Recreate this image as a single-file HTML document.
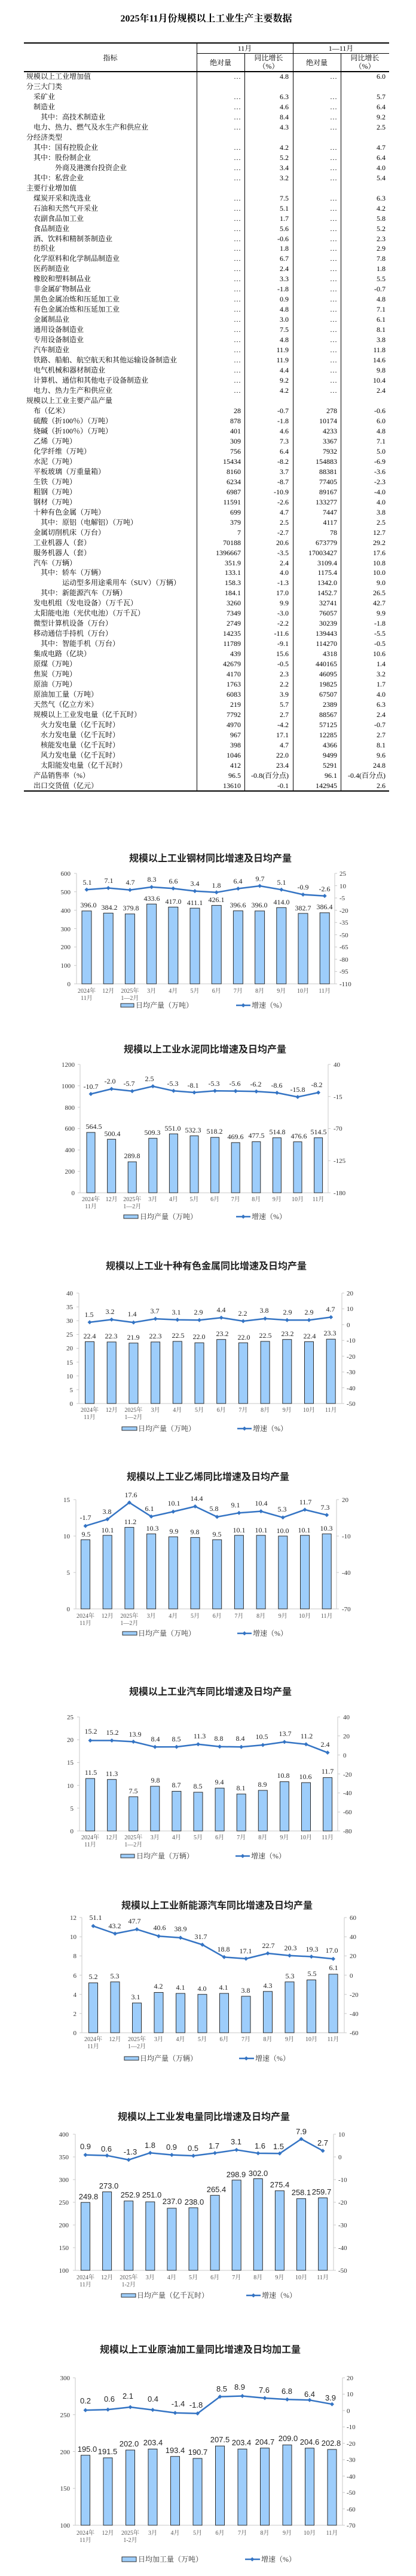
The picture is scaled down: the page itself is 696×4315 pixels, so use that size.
<!DOCTYPE html>
<html><head><meta charset="utf-8"><style>
body{margin:0;width:696px;height:4315px;position:relative;background:#fff;overflow:hidden}
.ttl0{position:absolute;top:18px;left:0;width:690px;text-align:center;font:bold 16px "Liberation Serif","Noto Serif CJK SC",serif;color:#000}
#tb{position:absolute;left:40px;top:120px;width:611px;font:12px "Liberation Serif","Noto Serif CJK SC",serif;color:#000}
.r{display:flex;height:16.97px;line-height:16.97px;white-space:nowrap}
.r span{width:80px;text-align:right;padding-right:6px;box-sizing:border-box}
.r span:nth-child(3){width:81px;padding-right:7px}
.r span:nth-child(5){width:81px}
.r span.l{width:289px;text-align:left;padding-left:4px}
.r span.i1{padding-left:16px}.r span.i2{padding-left:28px}.r span.i3{padding-left:52px}.r span.i4{padding-left:64px}
.hl{position:absolute;background:#000}
.hd{position:absolute;font:12px "Liberation Serif","Noto Serif CJK SC",serif;text-align:center;line-height:14px}
svg{position:absolute;left:0;top:0}
.bar{fill:#9dcdfb;stroke:#2b2b2b;stroke-width:1}
.ln{fill:none;stroke:#3474c4;stroke-width:2.5;stroke-linejoin:round}
.ax{stroke:#c8c8c8;stroke-width:1;fill:none}
.t{font:11px "Liberation Serif","Noto Serif CJK SC",serif;fill:#333}
.te{text-anchor:end}
.xl{font:10px "Liberation Serif","Noto Serif CJK SC",serif;fill:#555;text-anchor:middle}
.d{font:12px "Liberation Serif","Noto Serif CJK SC",serif;fill:#222;text-anchor:middle}
.ds{font:13px "Liberation Sans","Noto Sans CJK SC",sans-serif;fill:#222;text-anchor:middle}
.ct{font:bold 16px "Liberation Sans","Noto Sans CJK SC",sans-serif;fill:#222;text-anchor:middle}
.lg{font:12px "Liberation Serif","Noto Serif CJK SC",serif;fill:#333}
</style></head><body>
<div class="ttl0">2025年11月份规模以上工业生产主要数据</div>
<div class="hl" style="left:40px;top:71px;width:611px;height:2px"></div>
<div class="hl" style="left:329px;top:89px;width:322px;height:1px"></div>
<div class="hl" style="left:40px;top:119px;width:611px;height:1.5px"></div>
<div class="hl" style="left:40px;top:1324px;width:611px;height:1.5px"></div>
<div class="hl" style="left:329px;top:72px;width:1px;height:1253px"></div>
<div class="hl" style="left:409px;top:89px;width:1px;height:1236px"></div>
<div class="hl" style="left:490px;top:72px;width:1px;height:1253px"></div>
<div class="hl" style="left:570px;top:89px;width:1px;height:1236px"></div>
<div class="hd" style="left:40px;top:90px;width:289px">指标</div>
<div class="hd" style="left:329px;top:74px;width:161px">11月</div>
<div class="hd" style="left:490px;top:74px;width:161px">1—11月</div>
<div class="hd" style="left:329px;top:98px;width:80px">绝对量</div>
<div class="hd" style="left:409px;top:90px;width:81px">同比增长<br>（%）</div>
<div class="hd" style="left:490px;top:98px;width:80px">绝对量</div>
<div class="hd" style="left:570px;top:90px;width:81px">同比增长<br>（%）</div>
<div id="tb">
<div class="r"><span class="l">规模以上工业增加值</span><span>…</span><span>4.8</span><span>…</span><span>6.0</span></div>
<div class="r"><span class="l">分三大门类</span><span></span><span></span><span></span><span></span></div>
<div class="r"><span class="l i1">采矿业</span><span>…</span><span>6.3</span><span>…</span><span>5.7</span></div>
<div class="r"><span class="l i1">制造业</span><span>…</span><span>4.6</span><span>…</span><span>6.4</span></div>
<div class="r"><span class="l i2">其中：高技术制造业</span><span>…</span><span>8.4</span><span>…</span><span>9.2</span></div>
<div class="r"><span class="l i1">电力、热力、燃气及水生产和供应业</span><span>…</span><span>4.3</span><span>…</span><span>2.5</span></div>
<div class="r"><span class="l">分经济类型</span><span></span><span></span><span></span><span></span></div>
<div class="r"><span class="l i1">其中：国有控股企业</span><span>…</span><span>4.2</span><span>…</span><span>4.7</span></div>
<div class="r"><span class="l i1">其中：股份制企业</span><span>…</span><span>5.2</span><span>…</span><span>6.4</span></div>
<div class="r"><span class="l i3">外商及港澳台投资企业</span><span>…</span><span>3.4</span><span>…</span><span>4.0</span></div>
<div class="r"><span class="l i1">其中：私营企业</span><span>…</span><span>3.2</span><span>…</span><span>5.4</span></div>
<div class="r"><span class="l">主要行业增加值</span><span></span><span></span><span></span><span></span></div>
<div class="r"><span class="l i1">煤炭开采和洗选业</span><span>…</span><span>7.5</span><span>…</span><span>6.3</span></div>
<div class="r"><span class="l i1">石油和天然气开采业</span><span>…</span><span>5.1</span><span>…</span><span>4.2</span></div>
<div class="r"><span class="l i1">农副食品加工业</span><span>…</span><span>1.7</span><span>…</span><span>5.8</span></div>
<div class="r"><span class="l i1">食品制造业</span><span>…</span><span>5.6</span><span>…</span><span>5.2</span></div>
<div class="r"><span class="l i1">酒、饮料和精制茶制造业</span><span>…</span><span>-0.6</span><span>…</span><span>2.3</span></div>
<div class="r"><span class="l i1">纺织业</span><span>…</span><span>1.8</span><span>…</span><span>2.9</span></div>
<div class="r"><span class="l i1">化学原料和化学制品制造业</span><span>…</span><span>6.7</span><span>…</span><span>7.8</span></div>
<div class="r"><span class="l i1">医药制造业</span><span>…</span><span>2.4</span><span>…</span><span>1.8</span></div>
<div class="r"><span class="l i1">橡胶和塑料制品业</span><span>…</span><span>3.3</span><span>…</span><span>5.5</span></div>
<div class="r"><span class="l i1">非金属矿物制品业</span><span>…</span><span>-1.8</span><span>…</span><span>-0.7</span></div>
<div class="r"><span class="l i1">黑色金属冶炼和压延加工业</span><span>…</span><span>0.9</span><span>…</span><span>4.8</span></div>
<div class="r"><span class="l i1">有色金属冶炼和压延加工业</span><span>…</span><span>4.8</span><span>…</span><span>7.1</span></div>
<div class="r"><span class="l i1">金属制品业</span><span>…</span><span>3.0</span><span>…</span><span>6.1</span></div>
<div class="r"><span class="l i1">通用设备制造业</span><span>…</span><span>7.5</span><span>…</span><span>8.1</span></div>
<div class="r"><span class="l i1">专用设备制造业</span><span>…</span><span>4.8</span><span>…</span><span>3.8</span></div>
<div class="r"><span class="l i1">汽车制造业</span><span>…</span><span>11.9</span><span>…</span><span>11.8</span></div>
<div class="r"><span class="l i1">铁路、船舶、航空航天和其他运输设备制造业</span><span>…</span><span>11.9</span><span>…</span><span>14.6</span></div>
<div class="r"><span class="l i1">电气机械和器材制造业</span><span>…</span><span>4.4</span><span>…</span><span>9.8</span></div>
<div class="r"><span class="l i1">计算机、通信和其他电子设备制造业</span><span>…</span><span>9.2</span><span>…</span><span>10.4</span></div>
<div class="r"><span class="l i1">电力、热力生产和供应业</span><span>…</span><span>4.2</span><span>…</span><span>2.4</span></div>
<div class="r"><span class="l">规模以上工业主要产品产量</span><span></span><span></span><span></span><span></span></div>
<div class="r"><span class="l i1">布（亿米）</span><span>28</span><span>-0.7</span><span>278</span><span>-0.6</span></div>
<div class="r"><span class="l i1">硫酸（折100％）（万吨）</span><span>878</span><span>-1.8</span><span>10174</span><span>6.0</span></div>
<div class="r"><span class="l i1">烧碱（折100％）（万吨）</span><span>401</span><span>4.6</span><span>4233</span><span>4.8</span></div>
<div class="r"><span class="l i1">乙烯（万吨）</span><span>309</span><span>7.3</span><span>3367</span><span>7.1</span></div>
<div class="r"><span class="l i1">化学纤维（万吨）</span><span>756</span><span>6.4</span><span>7932</span><span>5.0</span></div>
<div class="r"><span class="l i1">水泥（万吨）</span><span>15434</span><span>-8.2</span><span>154883</span><span>-6.9</span></div>
<div class="r"><span class="l i1">平板玻璃（万重量箱）</span><span>8160</span><span>3.7</span><span>88381</span><span>-3.6</span></div>
<div class="r"><span class="l i1">生铁（万吨）</span><span>6234</span><span>-8.7</span><span>77405</span><span>-2.3</span></div>
<div class="r"><span class="l i1">粗钢（万吨）</span><span>6987</span><span>-10.9</span><span>89167</span><span>-4.0</span></div>
<div class="r"><span class="l i1">钢材（万吨）</span><span>11591</span><span>-2.6</span><span>133277</span><span>4.0</span></div>
<div class="r"><span class="l i1">十种有色金属（万吨）</span><span>699</span><span>4.7</span><span>7447</span><span>3.8</span></div>
<div class="r"><span class="l i2">其中：原铝（电解铝）（万吨）</span><span>379</span><span>2.5</span><span>4117</span><span>2.5</span></div>
<div class="r"><span class="l i1">金属切削机床（万台）</span><span>7</span><span>-2.7</span><span>78</span><span>12.7</span></div>
<div class="r"><span class="l i1">工业机器人（套）</span><span>70188</span><span>20.6</span><span>673779</span><span>29.2</span></div>
<div class="r"><span class="l i1">服务机器人（套）</span><span>1396667</span><span>-3.5</span><span>17003427</span><span>17.6</span></div>
<div class="r"><span class="l i1">汽车（万辆）</span><span>351.9</span><span>2.4</span><span>3109.4</span><span>10.8</span></div>
<div class="r"><span class="l i2">其中：轿车（万辆）</span><span>133.1</span><span>4.0</span><span>1175.4</span><span>10.0</span></div>
<div class="r"><span class="l i4">运动型多用途乘用车（SUV）（万辆）</span><span>158.3</span><span>-1.3</span><span>1342.0</span><span>9.0</span></div>
<div class="r"><span class="l i2">其中：新能源汽车（万辆）</span><span>184.1</span><span>17.0</span><span>1452.7</span><span>26.5</span></div>
<div class="r"><span class="l i1">发电机组（发电设备）（万千瓦）</span><span>3260</span><span>9.9</span><span>32741</span><span>42.7</span></div>
<div class="r"><span class="l i1">太阳能电池（光伏电池）（万千瓦）</span><span>7349</span><span>-3.0</span><span>76057</span><span>9.9</span></div>
<div class="r"><span class="l i1">微型计算机设备（万台）</span><span>2749</span><span>-2.2</span><span>30239</span><span>-1.8</span></div>
<div class="r"><span class="l i1">移动通信手持机（万台）</span><span>14235</span><span>-11.6</span><span>139443</span><span>-5.5</span></div>
<div class="r"><span class="l i2">其中：智能手机（万台）</span><span>11789</span><span>-9.1</span><span>114270</span><span>-0.5</span></div>
<div class="r"><span class="l i1">集成电路（亿块）</span><span>439</span><span>15.6</span><span>4318</span><span>10.6</span></div>
<div class="r"><span class="l i1">原煤（万吨）</span><span>42679</span><span>-0.5</span><span>440165</span><span>1.4</span></div>
<div class="r"><span class="l i1">焦炭（万吨）</span><span>4170</span><span>2.3</span><span>46095</span><span>3.2</span></div>
<div class="r"><span class="l i1">原油（万吨）</span><span>1763</span><span>2.2</span><span>19825</span><span>1.7</span></div>
<div class="r"><span class="l i1">原油加工量（万吨）</span><span>6083</span><span>3.9</span><span>67507</span><span>4.0</span></div>
<div class="r"><span class="l i1">天然气（亿立方米）</span><span>219</span><span>5.7</span><span>2389</span><span>6.3</span></div>
<div class="r"><span class="l i1">规模以上工业发电量（亿千瓦时）</span><span>7792</span><span>2.7</span><span>88567</span><span>2.4</span></div>
<div class="r"><span class="l i2">火力发电量（亿千瓦时）</span><span>4970</span><span>-4.2</span><span>57125</span><span>-0.7</span></div>
<div class="r"><span class="l i2">水力发电量（亿千瓦时）</span><span>967</span><span>17.1</span><span>12285</span><span>2.7</span></div>
<div class="r"><span class="l i2">核能发电量（亿千瓦时）</span><span>398</span><span>4.7</span><span>4366</span><span>8.1</span></div>
<div class="r"><span class="l i2">风力发电量（亿千瓦时）</span><span>1046</span><span>22.0</span><span>9499</span><span>9.6</span></div>
<div class="r"><span class="l i2">太阳能发电量（亿千瓦时）</span><span>412</span><span>23.4</span><span>5291</span><span>24.8</span></div>
<div class="r"><span class="l i1">产品销售率（%）</span><span>96.5</span><span>-0.8(百分点)</span><span>96.1</span><span>-0.4(百分点)</span></div>
<div class="r"><span class="l i1">出口交货值（亿元）</span><span>13610</span><span>-0.1</span><span>142945</span><span>2.6</span></div>
</div>

<svg width="696" height="4315" viewBox="0 0 696 4315" xmlns="http://www.w3.org/2000/svg">
<defs><path id="dm" d="M0,-3.5L3.5,0L0,3.5L-3.5,0Z" fill="#3474c4"/></defs>

<!-- Chart 1 steel -->
<text class="ct" x="352" y="1443">规模以上工业钢材同比增速及日均产量</text>
<path class="ax" d="M128,1463V1648H560V1463M124,1463H128M124,1493.8H128M124,1524.7H128M124,1555.5H128M124,1586.3H128M124,1617.2H128M124,1648H128M560,1463H564M560,1483.6H564M560,1504.1H564M560,1524.7H564M560,1545.2H564M560,1565.8H564M560,1586.3H564M560,1606.9H564M560,1627.4H564M560,1648H564"/>
<g class="t te"><text x="118" y="1467">600</text><text x="118" y="1498">500</text><text x="118" y="1529">400</text><text x="118" y="1560">300</text><text x="118" y="1590">200</text><text x="118" y="1621">100</text><text x="118" y="1652">0</text></g>
<g class="t"><text x="568" y="1467">25</text><text x="568" y="1488">10</text><text x="568" y="1508">-5</text><text x="568" y="1529">-20</text><text x="568" y="1549">-35</text><text x="568" y="1570">-50</text><text x="568" y="1590">-65</text><text x="568" y="1611">-80</text><text x="568" y="1631">-95</text><text x="568" y="1652">-110</text></g>
<g class="bar"><rect x="137" y="1525.9" width="16" height="122.1"/><rect x="173.2" y="1529.5" width="16" height="118.5"/><rect x="209.4" y="1530.9" width="16" height="117.1"/><rect x="245.6" y="1514.3" width="16" height="133.7"/><rect x="281.8" y="1519.4" width="16" height="128.6"/><rect x="318" y="1521.2" width="16" height="126.8"/><rect x="354.2" y="1516.6" width="16" height="131.4"/><rect x="390.4" y="1525.7" width="16" height="122.3"/><rect x="426.6" y="1525.9" width="16" height="122.1"/><rect x="462.8" y="1520.3" width="16" height="127.7"/><rect x="499" y="1530" width="16" height="118"/><rect x="535.2" y="1528.9" width="16" height="119.1"/></g>
<g class="d"><text x="148" y="1520">396.0</text><text x="183" y="1524">384.2</text><text x="219" y="1525">379.8</text><text x="254" y="1509">433.6</text><text x="290" y="1514">417.0</text><text x="326" y="1516">411.1</text><text x="362" y="1511">426.1</text><text x="398" y="1520">396.6</text><text x="434" y="1520">396.0</text><text x="471" y="1515">414.0</text><text x="507" y="1525">382.7</text><text x="543" y="1523">386.4</text></g>
<polyline class="ln" points="145,1490.3 181.2,1487.5 217.4,1490.8 253.6,1485.9 289.8,1488.2 326,1492.6 362.2,1494.8 398.4,1488.5 434.6,1484 470.8,1490.3 507,1498.5 543.2,1500.8"/>
<g><use href="#dm" x="145" y="1490.3"/><use href="#dm" x="181.2" y="1487.5"/><use href="#dm" x="217.4" y="1490.8"/><use href="#dm" x="253.6" y="1485.9"/><use href="#dm" x="289.8" y="1488.2"/><use href="#dm" x="326" y="1492.6"/><use href="#dm" x="362.2" y="1494.8"/><use href="#dm" x="398.4" y="1488.5"/><use href="#dm" x="434.6" y="1484"/><use href="#dm" x="470.8" y="1490.3"/><use href="#dm" x="507" y="1498.5"/><use href="#dm" x="543.2" y="1500.8"/></g>
<g class="d"><text x="146" y="1482">5.1</text><text x="182" y="1479">7.1</text><text x="218" y="1482">4.7</text><text x="254" y="1477">8.3</text><text x="290" y="1480">6.6</text><text x="326" y="1484">3.4</text><text x="362" y="1487">1.8</text><text x="398" y="1480">6.4</text><text x="435" y="1476">9.7</text><text x="471" y="1482">5.1</text><text x="507" y="1490">-0.9</text><text x="543" y="1493">-2.6</text></g>
<g class="xl"><text x="145" y="1663">2024年<tspan x="145" dy="12">11月</tspan></text><text x="181.2" y="1663">12月</text><text x="217.4" y="1663">2025年<tspan x="217.4" dy="12">1—2月</tspan></text><text x="253.6" y="1663">3月</text><text x="289.8" y="1663">4月</text><text x="326" y="1663">5月</text><text x="362.2" y="1663">6月</text><text x="398.4" y="1663">7月</text><text x="434.6" y="1663">8月</text><text x="470.8" y="1663">9月</text><text x="507" y="1663">10月</text><text x="543.2" y="1663">11月</text></g>
<rect class="bar" x="202" y="1681" width="22" height="6"/><text class="lg" x="227" y="1688">日均产量（万吨）</text>
<line x1="395" y1="1684" x2="419" y2="1684" class="ln"/><use href="#dm" x="407" y="1684"/><text class="lg" x="421" y="1688">增速（%）</text>

<!-- Chart 2 cement -->
<text class="ct" x="343" y="1763">规模以上工业水泥同比增速及日均产量</text>
<path class="ax" d="M134,1783V1998H549V1783M130,1783H134M130,1818.8H134M130,1854.7H134M130,1890.5H134M130,1926.3H134M130,1962.2H134M130,1998H134M549,1783H553M549,1836.75H553M549,1890.5H553M549,1944.25H553M549,1998H553"/>
<g class="t te"><text x="125" y="1787">1200</text><text x="125" y="1823">1000</text><text x="125" y="1859">800</text><text x="125" y="1894">600</text><text x="125" y="1930">400</text><text x="125" y="1966">200</text><text x="125" y="2002">0</text></g>
<g class="t"><text x="558" y="1787">40</text><text x="558" y="1841">-15</text><text x="558" y="1894">-70</text><text x="558" y="1948">-125</text><text x="558" y="2002">-180</text></g>
<g class="bar"><rect x="145" y="1896.9" width="14" height="101.1"/><rect x="179.6" y="1908.3" width="14" height="89.7"/><rect x="214.2" y="1946.1" width="14" height="51.9"/><rect x="248.8" y="1906.7" width="14" height="91.3"/><rect x="283.4" y="1899.3" width="14" height="98.7"/><rect x="318" y="1902.6" width="14" height="95.4"/><rect x="352.6" y="1905.2" width="14" height="92.8"/><rect x="387.2" y="1913.9" width="14" height="84.1"/><rect x="421.8" y="1912.4" width="14" height="85.6"/><rect x="456.4" y="1905.8" width="14" height="92.2"/><rect x="491" y="1912.6" width="14" height="85.4"/><rect x="525.6" y="1905.8" width="14" height="92.2"/></g>
<g class="d"><text x="157" y="1891">564.5</text><text x="188" y="1903">500.4</text><text x="221" y="1940">289.8</text><text x="255" y="1901">509.3</text><text x="289" y="1894">551.0</text><text x="323" y="1897">532.3</text><text x="359" y="1899">518.2</text><text x="394" y="1908">469.6</text><text x="429" y="1906">477.5</text><text x="464" y="1900">514.8</text><text x="500" y="1907">476.6</text><text x="533" y="1900">514.5</text></g>
<polyline class="ln" points="152,1832.5 186.6,1824 221.2,1827.7 255.8,1819.6 290.4,1827.3 325,1830 359.6,1827.3 394.2,1827.6 428.8,1828.2 463.4,1830.5 498,1837.5 532.6,1830.1"/>
<g><use href="#dm" x="152" y="1832.5"/><use href="#dm" x="186.6" y="1824"/><use href="#dm" x="221.2" y="1827.7"/><use href="#dm" x="255.8" y="1819.6"/><use href="#dm" x="290.4" y="1827.3"/><use href="#dm" x="325" y="1830"/><use href="#dm" x="359.6" y="1827.3"/><use href="#dm" x="394.2" y="1827.6"/><use href="#dm" x="428.8" y="1828.2"/><use href="#dm" x="463.4" y="1830.5"/><use href="#dm" x="498" y="1837.5"/><use href="#dm" x="532.6" y="1830.1"/></g>
<g class="d"><text x="152" y="1824">-10.7</text><text x="184" y="1815">-2.0</text><text x="216" y="1819">-5.7</text><text x="250" y="1811">2.5</text><text x="289" y="1819">-5.3</text><text x="323" y="1822">-8.1</text><text x="358" y="1819">-5.3</text><text x="393" y="1819">-5.6</text><text x="428" y="1820">-6.2</text><text x="463" y="1822">-8.6</text><text x="498" y="1829">-15.8</text><text x="530" y="1821">-8.2</text></g>
<g class="xl"><text x="152" y="2012">2024年<tspan x="152" dy="12">11月</tspan></text><text x="186.6" y="2012">12月</text><text x="221.2" y="2012">2025年<tspan x="221.2" dy="12">1—2月</tspan></text><text x="255.8" y="2012">3月</text><text x="290.4" y="2012">4月</text><text x="325" y="2012">5月</text><text x="359.6" y="2012">6月</text><text x="394.2" y="2012">7月</text><text x="428.8" y="2012">8月</text><text x="463.4" y="2012">9月</text><text x="498" y="2012">10月</text><text x="532.6" y="2012">11月</text></g>
<rect class="bar" x="207" y="2035" width="24" height="6"/><text class="lg" x="234" y="2042">日均产量（万吨）</text>
<line x1="395" y1="2038" x2="419" y2="2038" class="ln"/><use href="#dm" x="407" y="2038"/><text class="lg" x="421" y="2042">增速（%）</text>

<!-- Chart 3 ten nonferrous -->
<text class="ct" x="345" y="2126">规模以上工业十种有色金属同比增速及日均产量</text>
<path class="ax" d="M132,2166V2351H572V2166M128,2166H132M128,2189.1H132M128,2212.3H132M128,2235.4H132M128,2258.5H132M128,2281.6H132M128,2304.8H132M128,2327.9H132M128,2351H132M572,2166H576M572,2192.4H576M572,2218.9H576M572,2245.3H576M572,2271.7H576M572,2298.1H576M572,2324.6H576M572,2351H576"/>
<g class="t te"><text x="122" y="2170">40</text><text x="122" y="2193">35</text><text x="122" y="2216">30</text><text x="122" y="2239">25</text><text x="122" y="2262">20</text><text x="122" y="2286">15</text><text x="122" y="2309">10</text><text x="122" y="2332">5</text><text x="122" y="2355">0</text></g>
<g class="t"><text x="580" y="2170">20</text><text x="580" y="2196">10</text><text x="580" y="2223">0</text><text x="580" y="2249">-10</text><text x="580" y="2276">-20</text><text x="580" y="2302">-30</text><text x="580" y="2329">-40</text><text x="580" y="2355">-50</text></g>
<g class="bar"><rect x="142.5" y="2247.4" width="15" height="103.6"/><rect x="179.2" y="2247.9" width="15" height="103.1"/><rect x="215.9" y="2249.7" width="15" height="101.3"/><rect x="252.6" y="2247.9" width="15" height="103.1"/><rect x="289.3" y="2246.9" width="15" height="104.1"/><rect x="326" y="2249.25" width="15" height="101.75"/><rect x="362.7" y="2243.7" width="15" height="107.3"/><rect x="399.4" y="2249.25" width="15" height="101.75"/><rect x="436.1" y="2246.9" width="15" height="104.1"/><rect x="472.8" y="2243.7" width="15" height="107.3"/><rect x="509.5" y="2247.4" width="15" height="103.6"/><rect x="546.2" y="2243.2" width="15" height="107.8"/></g>
<g class="d"><text x="150" y="2242">22.4</text><text x="186" y="2242">22.3</text><text x="223" y="2244">21.9</text><text x="260" y="2242">22.3</text><text x="298" y="2241">22.5</text><text x="333" y="2243">22.0</text><text x="372" y="2238">23.2</text><text x="408" y="2244">22.0</text><text x="444" y="2241">22.5</text><text x="481" y="2238">23.2</text><text x="518" y="2242">22.4</text><text x="552" y="2237">23.3</text></g>
<polyline class="ln" points="150,2214.9 186.7,2210.4 223.4,2215.2 260.1,2209.1 296.8,2210.7 333.5,2211.2 370.2,2207.2 406.9,2213 443.6,2208.8 480.3,2211.2 517,2211.2 553.7,2206.4"/>
<g><use href="#dm" x="150" y="2214.9"/><use href="#dm" x="186.7" y="2210.4"/><use href="#dm" x="223.4" y="2215.2"/><use href="#dm" x="260.1" y="2209.1"/><use href="#dm" x="296.8" y="2210.7"/><use href="#dm" x="333.5" y="2211.2"/><use href="#dm" x="370.2" y="2207.2"/><use href="#dm" x="406.9" y="2213"/><use href="#dm" x="443.6" y="2208.8"/><use href="#dm" x="480.3" y="2211.2"/><use href="#dm" x="517" y="2211.2"/><use href="#dm" x="553.7" y="2206.4"/></g>
<g class="d"><text x="149" y="2206">1.5</text><text x="184" y="2201">3.2</text><text x="221" y="2205">1.4</text><text x="259" y="2200">3.7</text><text x="295" y="2202">3.1</text><text x="332" y="2202">2.9</text><text x="370" y="2198">4.4</text><text x="406" y="2204">2.2</text><text x="442" y="2199">3.8</text><text x="481" y="2202">2.9</text><text x="517" y="2202">2.9</text><text x="553" y="2197">4.7</text></g>
<g class="xl"><text x="150" y="2365">2024年<tspan x="150" dy="12">11月</tspan></text><text x="186.7" y="2365">12月</text><text x="223.4" y="2365">2025年<tspan x="223.4" dy="12">1—2月</tspan></text><text x="260.1" y="2365">3月</text><text x="296.8" y="2365">4月</text><text x="333.5" y="2365">5月</text><text x="370.2" y="2365">6月</text><text x="406.9" y="2365">7月</text><text x="443.6" y="2365">8月</text><text x="480.3" y="2365">9月</text><text x="517" y="2365">10月</text><text x="553.7" y="2365">11月</text></g>
<rect class="bar" x="204" y="2390" width="25" height="6"/><text class="lg" x="231" y="2397">日均产量（万吨）</text>
<line x1="397" y1="2393" x2="421" y2="2393" class="ln"/><use href="#dm" x="409" y="2393"/><text class="lg" x="423" y="2397">增速（%）</text>

<!-- Chart 4 ethylene -->
<text class="ct" x="348" y="2479">规模以上工业乙烯同比增速及日均产量</text>
<path class="ax" d="M127,2512V2695H563V2512M123,2512H127M123,2573H127M123,2634H127M123,2695H127M563,2512H567M563,2573H567M563,2634H567M563,2695H567"/>
<g class="t te"><text x="117" y="2516">15</text><text x="117" y="2577">10</text><text x="117" y="2638">5</text><text x="117" y="2699">0</text></g>
<g class="t"><text x="572" y="2516">20</text><text x="572" y="2577">-10</text><text x="572" y="2638">-40</text><text x="572" y="2699">-70</text></g>
<g class="bar"><rect x="135.5" y="2579.1" width="15" height="115.9"/><rect x="172.2" y="2571.8" width="15" height="123.2"/><rect x="208.9" y="2558.4" width="15" height="136.6"/><rect x="245.6" y="2569.3" width="15" height="125.7"/><rect x="282.3" y="2574.2" width="15" height="120.8"/><rect x="319" y="2575.4" width="15" height="119.6"/><rect x="355.7" y="2579.1" width="15" height="115.9"/><rect x="392.4" y="2571.8" width="15" height="123.2"/><rect x="429.1" y="2571.8" width="15" height="123.2"/><rect x="465.8" y="2573" width="15" height="122"/><rect x="502.5" y="2571.8" width="15" height="123.2"/><rect x="539.2" y="2569.3" width="15" height="125.7"/></g>
<g class="d"><text x="144" y="2574">9.5</text><text x="180" y="2567">10.1</text><text x="218" y="2553">11.2</text><text x="255" y="2564">10.3</text><text x="291" y="2569">9.9</text><text x="326" y="2570">9.8</text><text x="363" y="2574">9.5</text><text x="400" y="2567">10.1</text><text x="437" y="2567">10.1</text><text x="473" y="2568">10.0</text><text x="509" y="2567">10.1</text><text x="546" y="2564">10.3</text></g>
<polyline class="ln" points="143,2556.1 179.7,2544.9 216.4,2516.9 253.1,2540.3 289.8,2532.1 326.5,2523.4 363.2,2540.9 399.9,2534.2 436.6,2531.5 473.3,2541.9 510,2528.9 546.7,2537.8"/>
<g><use href="#dm" x="143" y="2556.1"/><use href="#dm" x="179.7" y="2544.9"/><use href="#dm" x="216.4" y="2516.9"/><use href="#dm" x="253.1" y="2540.3"/><use href="#dm" x="289.8" y="2532.1"/><use href="#dm" x="326.5" y="2523.4"/><use href="#dm" x="363.2" y="2540.9"/><use href="#dm" x="399.9" y="2534.2"/><use href="#dm" x="436.6" y="2531.5"/><use href="#dm" x="473.3" y="2541.9"/><use href="#dm" x="510" y="2528.9"/><use href="#dm" x="546.7" y="2537.8"/></g>
<g class="d"><text x="143" y="2546">-1.7</text><text x="179" y="2536">3.8</text><text x="219" y="2508">17.6</text><text x="250" y="2531">6.1</text><text x="291" y="2522">10.1</text><text x="329" y="2514">14.4</text><text x="358" y="2531">5.8</text><text x="394" y="2525">9.1</text><text x="437" y="2522">10.4</text><text x="472" y="2532">5.3</text><text x="511" y="2520">11.7</text><text x="544" y="2529">7.3</text></g>
<g class="xl"><text x="143" y="2710">2024年<tspan x="143" dy="12">11月</tspan></text><text x="179.7" y="2710">12月</text><text x="216.4" y="2710">2025年<tspan x="216.4" dy="12">1—2月</tspan></text><text x="253.1" y="2710">3月</text><text x="289.8" y="2710">4月</text><text x="326.5" y="2710">5月</text><text x="363.2" y="2710">6月</text><text x="399.9" y="2710">7月</text><text x="436.6" y="2710">8月</text><text x="473.3" y="2710">9月</text><text x="510" y="2710">10月</text><text x="546.7" y="2710">11月</text></g>
<rect class="bar" x="205" y="2733" width="24" height="6"/><text class="lg" x="231" y="2740">日均产量（万吨）</text>
<line x1="397" y1="2736" x2="421" y2="2736" class="ln"/><use href="#dm" x="409" y="2736"/><text class="lg" x="423" y="2740">增速（%）</text>

<!-- Chart 5 autos -->
<text class="ct" x="352" y="2839">规模以上工业汽车同比增速及日均产量</text>
<path class="ax" d="M133,2876V3067H565V2876M129,2876H133M129,2914.2H133M129,2952.4H133M129,2990.6H133M129,3028.8H133M129,3067H133M565,2876H569M565,2907.8H569M565,2939.7H569M565,2971.5H569M565,3003.3H569M565,3035.2H569M565,3067H569"/>
<g class="t te"><text x="123" y="2880">25</text><text x="123" y="2918">20</text><text x="123" y="2956">15</text><text x="123" y="2995">10</text><text x="123" y="3033">5</text><text x="123" y="3071">0</text></g>
<g class="t"><text x="574" y="2880">40</text><text x="574" y="2912">20</text><text x="574" y="2944">0</text><text x="574" y="2976">-20</text><text x="574" y="3007">-40</text><text x="574" y="3039">-60</text><text x="574" y="3071">-80</text></g>
<g class="bar"><rect x="143.5" y="2979.1" width="15" height="87.9"/><rect x="179.6" y="2980.7" width="15" height="86.3"/><rect x="215.7" y="3009.7" width="15" height="57.3"/><rect x="251.8" y="2992.1" width="15" height="74.9"/><rect x="287.9" y="3000.5" width="15" height="66.5"/><rect x="324" y="3002.1" width="15" height="64.9"/><rect x="360.1" y="2995.2" width="15" height="71.8"/><rect x="396.2" y="3005.1" width="15" height="61.9"/><rect x="432.3" y="2999" width="15" height="68"/><rect x="468.4" y="2984.5" width="15" height="82.5"/><rect x="504.5" y="2986" width="15" height="81"/><rect x="540.6" y="2977.6" width="15" height="89.4"/></g>
<g class="d"><text x="152" y="2973">11.5</text><text x="187" y="2975">11.3</text><text x="223" y="3004">7.5</text><text x="260" y="2986">9.8</text><text x="295" y="2994">8.7</text><text x="331" y="2996">8.5</text><text x="367" y="2989">9.4</text><text x="403" y="2999">8.1</text><text x="439" y="2993">8.9</text><text x="474" y="2978">10.8</text><text x="511" y="2980">10.6</text><text x="548" y="2971">11.7</text></g>
<polyline class="ln" points="151,2915.5 187.1,2915.5 223.2,2917.5 259.3,2926.3 295.4,2926.1 331.5,2921.7 367.6,2925.7 403.7,2926.3 439.8,2923 475.9,2917.9 512,2921.8 548.1,2935.8"/>
<g><use href="#dm" x="151" y="2915.5"/><use href="#dm" x="187.1" y="2915.5"/><use href="#dm" x="223.2" y="2917.5"/><use href="#dm" x="259.3" y="2926.3"/><use href="#dm" x="295.4" y="2926.1"/><use href="#dm" x="331.5" y="2921.7"/><use href="#dm" x="367.6" y="2925.7"/><use href="#dm" x="403.7" y="2926.3"/><use href="#dm" x="439.8" y="2923"/><use href="#dm" x="475.9" y="2917.9"/><use href="#dm" x="512" y="2921.8"/><use href="#dm" x="548.1" y="2935.8"/></g>
<g class="d"><text x="152" y="2904">15.2</text><text x="188" y="2906">15.2</text><text x="226" y="2909">13.9</text><text x="260" y="2917">8.4</text><text x="295" y="2917">8.5</text><text x="334" y="2912">11.3</text><text x="366" y="2916">8.8</text><text x="402" y="2916">8.4</text><text x="438" y="2913">10.5</text><text x="477" y="2908">13.7</text><text x="513" y="2912">11.2</text><text x="544" y="2926">2.4</text></g>
<g class="xl"><text x="151" y="3081">2024年<tspan x="151" dy="12">11月</tspan></text><text x="187.1" y="3081">12月</text><text x="223.2" y="3081">2025年<tspan x="223.2" dy="12">1—2月</tspan></text><text x="259.3" y="3081">3月</text><text x="295.4" y="3081">4月</text><text x="331.5" y="3081">5月</text><text x="367.6" y="3081">6月</text><text x="403.7" y="3081">7月</text><text x="439.8" y="3081">8月</text><text x="475.9" y="3081">9月</text><text x="512" y="3081">10月</text><text x="548.1" y="3081">11月</text></g>
<rect class="bar" x="202" y="3106" width="23" height="6"/><text class="lg" x="228" y="3113">日均产量（万辆）</text>
<line x1="394" y1="3109" x2="418" y2="3109" class="ln"/><use href="#dm" x="406" y="3109"/><text class="lg" x="420" y="3113">增速（%）</text>

<!-- Chart 6 NEV -->
<text class="ct" x="363" y="3197">规模以上工业新能源汽车同比增速及日均产量</text>
<path class="ax" d="M137,3212V3405H576V3212M133,3212H137M133,3244.2H137M133,3276.3H137M133,3308.5H137M133,3340.7H137M133,3372.8H137M133,3405H137M576,3212H580M576,3244.2H580M576,3276.3H580M576,3308.5H580M576,3340.7H580M576,3372.8H580M576,3405H580"/>
<g class="t te"><text x="128" y="3216">12</text><text x="128" y="3248">10</text><text x="128" y="3280">8</text><text x="128" y="3313">6</text><text x="128" y="3345">4</text><text x="128" y="3377">2</text><text x="128" y="3409">0</text></g>
<g class="t"><text x="585" y="3216">60</text><text x="585" y="3248">40</text><text x="585" y="3280">20</text><text x="585" y="3313">0</text><text x="585" y="3345">-20</text><text x="585" y="3377">-40</text><text x="585" y="3409">-60</text></g>
<g class="bar"><rect x="148.5" y="3321.4" width="15" height="83.6"/><rect x="185" y="3319.8" width="15" height="85.2"/><rect x="221.5" y="3355.1" width="15" height="49.9"/><rect x="258" y="3337.5" width="15" height="67.5"/><rect x="294.5" y="3339.1" width="15" height="65.9"/><rect x="331" y="3340.7" width="15" height="64.3"/><rect x="367.5" y="3339.1" width="15" height="65.9"/><rect x="404" y="3343.9" width="15" height="61.1"/><rect x="440.5" y="3335.8" width="15" height="69.2"/><rect x="477" y="3319.8" width="15" height="85.2"/><rect x="513.5" y="3316.5" width="15" height="88.5"/><rect x="550" y="3306.9" width="15" height="98.1"/></g>
<g class="d"><text x="156" y="3315">5.2</text><text x="192" y="3314">5.3</text><text x="227" y="3349">3.1</text><text x="265" y="3331">4.2</text><text x="302" y="3333">4.1</text><text x="338" y="3335">4.0</text><text x="374" y="3333">4.1</text><text x="411" y="3338">3.8</text><text x="448" y="3330">4.3</text><text x="485" y="3314">5.3</text><text x="522" y="3310">5.5</text><text x="558" y="3300">6.1</text></g>
<polyline class="ln" points="156,3226.3 192.5,3239 229,3231.8 265.5,3243.2 302,3245.9 338.5,3257.5 375,3278.3 411.5,3281 448,3272 484.5,3275.8 521,3277.5 557.5,3281.2"/>
<g><use href="#dm" x="156" y="3226.3"/><use href="#dm" x="192.5" y="3239"/><use href="#dm" x="229" y="3231.8"/><use href="#dm" x="265.5" y="3243.2"/><use href="#dm" x="302" y="3245.9"/><use href="#dm" x="338.5" y="3257.5"/><use href="#dm" x="375" y="3278.3"/><use href="#dm" x="411.5" y="3281"/><use href="#dm" x="448" y="3272"/><use href="#dm" x="484.5" y="3275.8"/><use href="#dm" x="521" y="3277.5"/><use href="#dm" x="557.5" y="3281.2"/></g>
<g class="d"><text x="160" y="3216">51.1</text><text x="192" y="3230">43.2</text><text x="225" y="3222">47.7</text><text x="267" y="3233">40.6</text><text x="302" y="3235">38.9</text><text x="336" y="3248">31.7</text><text x="374" y="3269">18.8</text><text x="411" y="3272">17.1</text><text x="449" y="3263">22.7</text><text x="486" y="3267">20.3</text><text x="522" y="3269">19.3</text><text x="555" y="3271">17.0</text></g>
<g class="xl"><text x="156" y="3419">2024年<tspan x="156" dy="12">11月</tspan></text><text x="192.5" y="3419">12月</text><text x="229" y="3419">2025年<tspan x="229" dy="12">1—2月</tspan></text><text x="265.5" y="3419">3月</text><text x="302" y="3419">4月</text><text x="338.5" y="3419">5月</text><text x="375" y="3419">6月</text><text x="411.5" y="3419">7月</text><text x="448" y="3419">8月</text><text x="484.5" y="3419">9月</text><text x="521" y="3419">10月</text><text x="557.5" y="3419">11月</text></g>
<rect class="bar" x="208" y="3445" width="24" height="6"/><text class="lg" x="234" y="3452">日均产量（万辆）</text>
<line x1="400" y1="3448" x2="425" y2="3448" class="ln"/><use href="#dm" x="412" y="3448"/><text class="lg" x="427" y="3452">增速（%）</text>

<!-- Chart 7 power -->
<text class="ct" x="341" y="3551">规模以上工业发电量同比增速及日均产量</text>
<path class="ax" d="M126,3575V3803H558V3575M122,3575H126M122,3613H126M122,3651H126M122,3689H126M122,3727H126M122,3765H126M122,3803H126M558,3575H562M558,3613H562M558,3651H562M558,3689H562M558,3727H562M558,3765H562M558,3803H562"/>
<g class="t te"><text x="115" y="3579">400</text><text x="115" y="3617">350</text><text x="115" y="3655">300</text><text x="115" y="3693">250</text><text x="115" y="3731">200</text><text x="115" y="3769">150</text><text x="115" y="3807">100</text></g>
<g class="t"><text x="566" y="3579">10</text><text x="566" y="3617">0</text><text x="566" y="3655">-10</text><text x="566" y="3693">-20</text><text x="566" y="3731">-30</text><text x="566" y="3769">-40</text><text x="566" y="3807">-50</text></g>
<g class="bar"><rect x="135.5" y="3689.2" width="15" height="113.8"/><rect x="171.6" y="3671.5" width="15" height="131.5"/><rect x="207.7" y="3686.8" width="15" height="116.2"/><rect x="243.8" y="3688.2" width="15" height="114.8"/><rect x="279.9" y="3698.9" width="15" height="104.1"/><rect x="316" y="3698.1" width="15" height="104.9"/><rect x="352.1" y="3677.3" width="15" height="125.7"/><rect x="388.2" y="3651.8" width="15" height="151.2"/><rect x="424.3" y="3649.5" width="15" height="153.5"/><rect x="460.4" y="3669.7" width="15" height="133.3"/><rect x="496.5" y="3682.8" width="15" height="120.2"/><rect x="532.6" y="3681.6" width="15" height="121.4"/></g>
<g class="ds"><text x="148" y="3684">249.8</text><text x="182" y="3666">273.0</text><text x="218" y="3681">252.9</text><text x="254" y="3681">251.0</text><text x="288" y="3692">237.0</text><text x="325" y="3693">238.0</text><text x="362" y="3672">265.4</text><text x="395" y="3647">298.9</text><text x="432" y="3645">302.0</text><text x="468" y="3664">275.4</text><text x="504" y="3677">258.1</text><text x="538" y="3676">259.7</text></g>
<polyline class="ln" points="143,3609.6 179.1,3610.7 215.2,3617.9 251.3,3606.2 287.4,3609.6 323.5,3611.1 359.6,3606.5 395.7,3601.2 431.8,3606.9 467.9,3607.3 504,3583 540.1,3602.7"/>
<g><use href="#dm" x="143" y="3609.6"/><use href="#dm" x="179.1" y="3610.7"/><use href="#dm" x="215.2" y="3617.9"/><use href="#dm" x="251.3" y="3606.2"/><use href="#dm" x="287.4" y="3609.6"/><use href="#dm" x="323.5" y="3611.1"/><use href="#dm" x="359.6" y="3606.5"/><use href="#dm" x="395.7" y="3601.2"/><use href="#dm" x="431.8" y="3606.9"/><use href="#dm" x="467.9" y="3607.3"/><use href="#dm" x="504" y="3583"/><use href="#dm" x="540.1" y="3602.7"/></g>
<g class="ds"><text x="143" y="3600">0.9</text><text x="178" y="3604">0.6</text><text x="218" y="3609">-1.3</text><text x="251" y="3598">1.8</text><text x="287" y="3601">0.9</text><text x="323" y="3603">0.5</text><text x="358" y="3599">1.7</text><text x="395" y="3592">3.1</text><text x="435" y="3599">1.6</text><text x="466" y="3600">1.5</text><text x="504" y="3575">7.9</text><text x="540" y="3594">2.7</text></g>
<g class="xl"><text x="143" y="3818">2024年<tspan x="143" dy="12">11月</tspan></text><text x="179.1" y="3818">12月</text><text x="215.2" y="3818">2025年<tspan x="215.2" dy="12">1-2月</tspan></text><text x="251.3" y="3818">3月</text><text x="287.4" y="3818">4月</text><text x="323.5" y="3818">5月</text><text x="359.6" y="3818">6月</text><text x="395.7" y="3818">7月</text><text x="431.8" y="3818">8月</text><text x="467.9" y="3818">9月</text><text x="504" y="3818">10月</text><text x="540.1" y="3818">11月</text></g>
<rect class="bar" x="203" y="3842" width="24" height="6"/><text class="lg" x="229" y="3849">日均产量（亿千瓦时）</text>
<line x1="412" y1="3845" x2="436" y2="3845" class="ln"/><use href="#dm" x="424" y="3845"/><text class="lg" x="438" y="3849">增速（%）</text>

<!-- Chart 8 crude -->
<text class="ct" x="335" y="3941">规模以上工业原油加工量同比增速及日均加工量</text>
<path class="ax" d="M126,3983V4230H573V3983M122,3983H126M122,4044.75H126M122,4106.5H126M122,4168.25H126M122,4230H126M573,3983H577M573,4010.4H577M573,4037.9H577M573,4065.3H577M573,4092.8H577M573,4120.2H577M573,4147.6H577M573,4175.1H577M573,4202.6H577M573,4230H577"/>
<g class="t te"><text x="117" y="3987">300</text><text x="117" y="4049">250</text><text x="117" y="4111">200</text><text x="117" y="4172">150</text><text x="117" y="4234">100</text></g>
<g class="t"><text x="580" y="3987">20</text><text x="580" y="4014">10</text><text x="580" y="4042">0</text><text x="580" y="4069">-10</text><text x="580" y="4097">-20</text><text x="580" y="4124">-30</text><text x="580" y="4152">-40</text><text x="580" y="4179">-50</text><text x="580" y="4207">-60</text><text x="580" y="4234">-70</text></g>
<g class="bar"><rect x="135.5" y="4112.7" width="15" height="117.3"/><rect x="173" y="4117" width="15" height="113"/><rect x="210.5" y="4104" width="15" height="126"/><rect x="248" y="4102.3" width="15" height="127.7"/><rect x="285.5" y="4114.7" width="15" height="115.3"/><rect x="323" y="4118" width="15" height="112"/><rect x="360.5" y="4097.2" width="15" height="132.8"/><rect x="398" y="4102.3" width="15" height="127.7"/><rect x="435.5" y="4100.7" width="15" height="129.3"/><rect x="473" y="4095.4" width="15" height="134.6"/><rect x="510.5" y="4100.8" width="15" height="129.2"/><rect x="548" y="4103" width="15" height="127"/></g>
<g class="ds"><text x="146" y="4107">195.0</text><text x="180" y="4111">191.5</text><text x="216" y="4098">202.0</text><text x="256" y="4096">203.4</text><text x="293" y="4109">193.4</text><text x="331" y="4112">190.7</text><text x="368" y="4091">207.5</text><text x="404" y="4096">203.4</text><text x="443" y="4095">204.7</text><text x="482" y="4089">209.0</text><text x="518" y="4095">204.6</text><text x="554" y="4097">202.8</text></g>
<polyline class="ln" points="143,4037.3 180.5,4036.2 218,4032.1 255.5,4036.8 293,4041.7 330.5,4042.8 368,4014.6 405.5,4013.5 443,4017 480.5,4019.2 518,4020.3 555.5,4027.2"/>
<g><use href="#dm" x="143" y="4037.3"/><use href="#dm" x="180.5" y="4036.2"/><use href="#dm" x="218" y="4032.1"/><use href="#dm" x="255.5" y="4036.8"/><use href="#dm" x="293" y="4041.7"/><use href="#dm" x="330.5" y="4042.8"/><use href="#dm" x="368" y="4014.6"/><use href="#dm" x="405.5" y="4013.5"/><use href="#dm" x="443" y="4017"/><use href="#dm" x="480.5" y="4019.2"/><use href="#dm" x="518" y="4020.3"/><use href="#dm" x="555.5" y="4027.2"/></g>
<g class="ds"><text x="143" y="4026">0.2</text><text x="183" y="4023">0.6</text><text x="214" y="4018">2.1</text><text x="256" y="4023">0.4</text><text x="298" y="4031">-1.4</text><text x="328" y="4033">-1.8</text><text x="371" y="4006">8.5</text><text x="401" y="4003">8.9</text><text x="442" y="4008">7.6</text><text x="480" y="4010">6.8</text><text x="518" y="4015">6.4</text><text x="553" y="4021">3.9</text></g>
<g class="xl"><text x="143" y="4246">2024年<tspan x="143" dy="12">11月</tspan></text><text x="180.5" y="4246">12月</text><text x="218" y="4246">2025年<tspan x="218" dy="12">1-2月</tspan></text><text x="255.5" y="4246">3月</text><text x="293" y="4246">4月</text><text x="330.5" y="4246">5月</text><text x="368" y="4246">6月</text><text x="405.5" y="4246">7月</text><text x="443" y="4246">8月</text><text x="480.5" y="4246">9月</text><text x="518" y="4246">10月</text><text x="555.5" y="4246">11月</text></g>
<rect class="bar" x="204" y="4283" width="24" height="8"/><text class="lg" x="231" y="4291">日均加工量（万吨）</text>
<line x1="410" y1="4287" x2="435" y2="4287" class="ln"/><use href="#dm" x="422" y="4287"/><text class="lg" x="437" y="4291">增速（%）</text>
</svg>
</body></html>
